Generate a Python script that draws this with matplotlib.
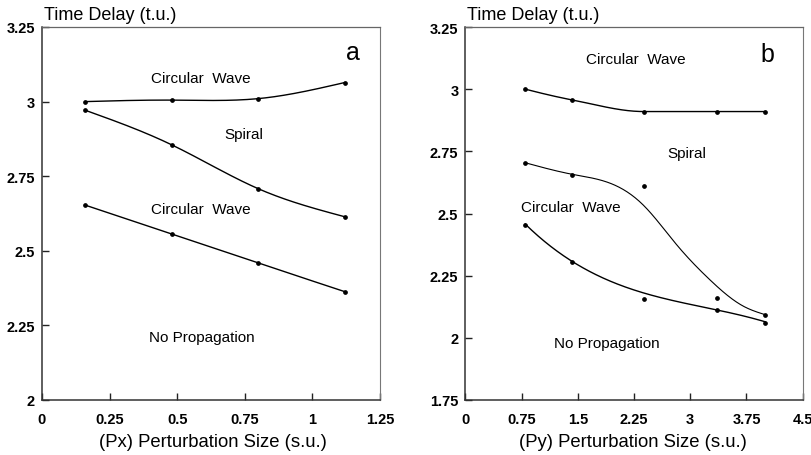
import numpy as np
import matplotlib
matplotlib.use("Agg")
import matplotlib.pyplot as plt

plt.rcParams['font.family'] = ['Liberation Sans', 'DejaVu Sans']

# ---------------- data: panel a ----------------
a_x = [0.16, 0.48, 0.80, 1.12]
a_circ_upper = [3.000, 3.005, 3.010, 3.064]
a_spiral_lower = [2.971, 2.855, 2.708, 2.614]
a_circ_lower = [2.653, 2.556, 2.459, 2.363]

a_xticks = [0, 0.25, 0.5, 0.75, 1, 1.25]
a_xticklabels = ['0', '0.25', '0.5', '0.75', '1', '1.25']
a_yticks = [2, 2.25, 2.5, 2.75, 3, 3.25]
a_yticklabels = ['2', '2.25', '2.5', '2.75', '3', '3.25']

# ---------------- data: panel b ----------------
b_x = [0.80, 1.42, 2.38, 3.36, 4.00]
b_circ_upper = [3.000, 2.957, 2.910, 2.910, 2.910]
b_spiral_pts = [2.704, 2.656, 2.609, 2.159, 2.092]
b_lower_pts = [2.455, 2.306, 2.157, 2.110, 2.061]

# smooth fitted curves as drawn in the figure (traced)
b_spiral_curve_x = [0.80, 1.42, 1.93, 2.37, 2.82, 3.26, 3.71, 4.00]
b_spiral_curve_y = [2.704, 2.658, 2.622, 2.535, 2.374, 2.234, 2.127, 2.093]
b_lower_curve_x = [0.80, 1.26, 1.42, 1.71, 1.93, 2.15, 2.37, 2.82, 3.35, 4.00]
b_lower_curve_y = [2.455, 2.348, 2.305, 2.260, 2.227, 2.200, 2.180, 2.149, 2.113, 2.064]

b_xticks = [0, 0.75, 1.5, 2.25, 3, 3.75, 4.5]
b_xticklabels = ['0', '0.75', '1.5', '2.25', '3', '3.75', '4.5']
b_yticks = [1.75, 2, 2.25, 2.5, 2.75, 3, 3.25]
b_yticklabels = ['1.75', '2', '2.25', '2.5', '2.75', '3', '3.25']


def natural_spline(x, y, xn):
    x = np.asarray(x, float)
    y = np.asarray(y, float)
    n = len(x)
    h = np.diff(x)
    A = np.zeros((n, n))
    r = np.zeros(n)
    A[0, 0] = A[-1, -1] = 1.0
    for i in range(1, n - 1):
        A[i, i - 1] = h[i - 1]
        A[i, i] = 2 * (h[i - 1] + h[i])
        A[i, i + 1] = h[i]
        r[i] = 3 * ((y[i + 1] - y[i]) / h[i] - (y[i] - y[i - 1]) / h[i - 1])
    c = np.linalg.solve(A, r)
    b = (y[1:] - y[:-1]) / h - h * (2 * c[:-1] + c[1:]) / 3
    d = (c[1:] - c[:-1]) / (3 * h)
    xn = np.asarray(xn, float)
    idx = np.clip(np.searchsorted(x, xn) - 1, 0, n - 2)
    t = xn - x[idx]
    return y[idx] + b[idx] * t + c[idx] * t**2 + d[idx] * t**3


def pchip(x, y, xn):
    x = np.asarray(x, float)
    y = np.asarray(y, float)
    h = np.diff(x)
    delta = np.diff(y) / h
    n = len(x)
    d = np.zeros(n)
    for k in range(1, n - 1):
        if delta[k - 1] * delta[k] <= 0:
            d[k] = 0.0
        else:
            w1 = 2 * h[k] + h[k - 1]
            w2 = h[k] + 2 * h[k - 1]
            d[k] = (w1 + w2) / (w1 / delta[k - 1] + w2 / delta[k])

    def endpoint(h0, h1, d0, d1):
        v = ((2 * h0 + h1) * d0 - h0 * d1) / (h0 + h1)
        if np.sign(v) != np.sign(d0):
            v = 0.0
        elif np.sign(d0) != np.sign(d1) and abs(v) > abs(3 * d0):
            v = 3 * d0
        return v

    d[0] = endpoint(h[0], h[1], delta[0], delta[1])
    d[-1] = endpoint(h[-1], h[-2], delta[-1], delta[-2])
    xn = np.asarray(xn, float)
    idx = np.clip(np.searchsorted(x, xn) - 1, 0, n - 2)
    t = (xn - x[idx]) / h[idx]
    h00 = 2 * t**3 - 3 * t**2 + 1
    h10 = t**3 - 2 * t**2 + t
    h01 = -2 * t**3 + 3 * t**2
    h11 = t**3 - t**2
    return h00 * y[idx] + h10 * h[idx] * d[idx] + h01 * y[idx + 1] + h11 * h[idx] * d[idx + 1]


def polysmooth(x, y, deg, xn):
    p = np.polyfit(x, y, deg)
    return np.polyval(p, xn)


fig = plt.figure(figsize=(8.12, 4.56), dpi=100)
ax_a = fig.add_axes([42 / 812, 1 - 401 / 456, (380 - 42) / 812, (401 - 28) / 456])
ax_b = fig.add_axes([465.3 / 812, 1 - 401 / 456, (802.7 - 465.3) / 812, (401 - 28) / 456])

line_kw = dict(color='black', lw=1.0)
mark_kw = dict(color='black', marker='o', ms=2.4, ls='none')


def style(ax, xticks, xtl, yticks, ytl, xlim, ylim):
    ax.set_xlim(*xlim)
    ax.set_ylim(*ylim)
    ax.set_xticks(xticks)
    ax.set_xticklabels(xtl, fontsize=10.5, fontweight='bold')
    ax.set_yticks(yticks)
    ax.set_yticklabels(ytl, fontsize=10.5, fontweight='bold')
    ax.tick_params(axis='both', direction='in', length=5, width=1.0, color='#222222')
    ax.tick_params(axis='x', pad=9)
    ax.tick_params(axis='y', pad=5)
    for s in ax.spines.values():
        s.set_linewidth(1.1)
        s.set_color('#333333')
    ax.spines['top'].set_color('#666666')
    ax.spines['right'].set_color('#777777')
    ax.spines['top'].set_linewidth(0.9)
    ax.spines['right'].set_linewidth(0.8)


# ---- panel a ----
xs = np.linspace(min(a_x), max(a_x), 200)
for ys in (a_circ_upper, a_spiral_lower, a_circ_lower):
    ax_a.plot(xs, natural_spline(a_x, ys, xs), **line_kw)
    ax_a.plot(a_x, ys, **mark_kw)
style(ax_a, a_xticks, a_xticklabels, a_yticks, a_yticklabels, (0, 1.25), (2, 3.25))
lab = dict(fontsize=11, ha='center', va='center')
ax_a.text(0.588, 3.08, 'Circular  Wave', **lab)
ax_a.text(0.747, 2.89, 'Spiral', **lab)
ax_a.text(0.588, 2.64, 'Circular  Wave', **lab)
ax_a.text(0.59, 2.21, 'No Propagation', **lab)
ax_a.text(1.15, 3.165, 'a', fontsize=18, ha='center', va='center')

# ---- panel b ----
xs = np.linspace(min(b_x), max(b_x), 200)
ax_b.plot(xs, pchip(b_x, b_circ_upper, xs), **line_kw)
ax_b.plot(b_x, b_circ_upper, **mark_kw)
xs2 = np.linspace(min(b_spiral_curve_x), max(b_spiral_curve_x), 300)
ax_b.plot(xs2, natural_spline(b_spiral_curve_x, b_spiral_curve_y, xs2), color='black', lw=0.8)
ax_b.plot(b_x, b_spiral_pts, **mark_kw)
xs3 = np.linspace(min(b_lower_curve_x), max(b_lower_curve_x), 300)
ax_b.plot(xs3, polysmooth(b_lower_curve_x, b_lower_curve_y, 3, xs3), **line_kw)
ax_b.plot(b_x, b_lower_pts, **mark_kw)
style(ax_b, b_xticks, b_xticklabels, b_yticks, b_yticklabels, (0, 4.5), (1.75, 3.25))
ax_b.text(2.28, 3.122, 'Circular  Wave', **lab)
ax_b.text(2.96, 2.743, 'Spiral', **lab)
ax_b.text(1.41, 2.525, 'Circular  Wave', **lab)
ax_b.text(1.89, 1.978, 'No Propagation', **lab)
ax_b.text(4.03, 3.14, 'b', fontsize=18, ha='center', va='center')

# ---- axis titles ----
fig.text(44 / 812, 1 - 15 / 456, 'Time Delay (t.u.)', fontsize=13, ha='left', va='center')
fig.text(467 / 812, 1 - 15 / 456, 'Time Delay (t.u.)', fontsize=13, ha='left', va='center')
fig.text(213 / 812, 1 - 443 / 456, '(Px) Perturbation Size (s.u.)', fontsize=13.3, ha='center', va='center')
fig.text(633 / 812, 1 - 443 / 456, '(Py) Perturbation Size (s.u.)', fontsize=13.3, ha='center', va='center')

fig.savefig('out.png', dpi=100)
